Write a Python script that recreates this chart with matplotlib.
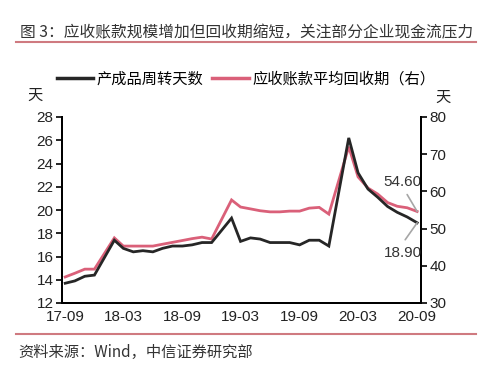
import matplotlib
matplotlib.use("Agg")
import matplotlib.pyplot as plt
import pandas as pd
from matplotlib.lines import Line2D

plt.rcParams['font.family'] = ['Liberation Sans', 'Noto Sans CJK SC', 'DejaVu Sans']

# ---------------- DATA ----------------
months = ["2017-09", "2017-10", "2017-11", "2017-12",
          "2018-02", "2018-03", "2018-04", "2018-05", "2018-06", "2018-07",
          "2018-08", "2018-09", "2018-10", "2018-11", "2018-12",
          "2019-02", "2019-03", "2019-04", "2019-05", "2019-06", "2019-07",
          "2019-08", "2019-09", "2019-10", "2019-11", "2019-12",
          "2020-02", "2020-03", "2020-04", "2020-05", "2020-06", "2020-07",
          "2020-08", "2020-09"]
inventory_days = [13.7, 13.9, 14.3, 14.4,
                  17.4, 16.7, 16.4, 16.5, 16.4, 16.7,
                  16.9, 16.9, 17.0, 17.2, 17.2,
                  19.3, 17.3, 17.6, 17.5, 17.2, 17.2,
                  17.2, 17.0, 17.4, 17.4, 16.9,
                  26.2, 23.2, 21.8, 21.1, 20.3, 19.8,
                  19.4, 18.9]
receivable_days = [37.0, 38.0, 39.1, 39.1,
                   47.5, 45.3, 45.3, 45.3, 45.3, 45.8,
                   46.3, 46.8, 47.3, 47.7, 47.2,
                   57.7, 55.8, 55.3, 54.8, 54.5, 54.5,
                   54.7, 54.7, 55.5, 55.7, 53.9,
                   72.0, 63.9, 60.9, 59.3, 57.0, 56.0,
                   55.6, 54.6]
tick_months = ["2017-09", "2018-03", "2018-09", "2019-03", "2019-09", "2020-03", "2020-09"]
tick_labels = ["17-09", "18-03", "18-09", "19-03", "19-09", "20-03", "20-09"]
series_names = ["产成品周转天数", "应收账款平均回收期（右）"]
last_labels = ["18.90", "54.60"]
title = "图 3：应收账款规模增加但回收期缩短，关注部分企业现金流压力"
source = "资料来源：Wind，中信证券研究部"

# ---------------- PLOT ----------------
BLACK = '#262626'
PINK = '#da6079'
W, H = 500, 377
fig = plt.figure(figsize=(W / 100, H / 100), dpi=100)
ax = fig.add_axes([62 / W, 1 - 303 / H, (421 - 62) / W, (303 - 117) / H])
ax2 = ax.twinx()

dates = pd.to_datetime(months)
ax.plot(dates, inventory_days, color=BLACK, lw=2.0, zorder=3, solid_joinstyle='miter')
ax2.plot(dates, receivable_days, color=PINK, lw=2.0, zorder=2, solid_joinstyle='miter')
ax.set_zorder(ax2.get_zorder() + 1)
ax.patch.set_visible(False)

ax.set_xlim(pd.Timestamp("2017-08-22"), pd.Timestamp("2020-09-13"))
ax.set_ylim(12, 28)
ax2.set_ylim(30, 80)
ax.set_yticks(range(12, 29, 2))
ax2.set_yticks(range(30, 81, 10))
ax.set_xticks(pd.to_datetime(tick_months))
ax.set_xticklabels(tick_labels)

for a in (ax, ax2):
    a.spines['top'].set_visible(False)
    for s in ('left', 'right', 'bottom'):
        a.spines[s].set_linewidth(1.4)
        a.spines[s].set_color('black')
    a.tick_params(axis='both', labelsize=11, colors='black', width=1.2, length=4,
                  labelcolor='#222222')
ax.tick_params(axis='x', length=0, pad=5)
ax.tick_params(axis='y', pad=2)
ax2.tick_params(axis='y', pad=2)

# last value annotations
GRAY = '#a6a6a6'
ax.annotate("", xy=(dates[-1], inventory_days[-1]), xytext=(-8.6, -12.2),
            textcoords='offset points',
            arrowprops=dict(arrowstyle='-', color=GRAY, lw=1.2, shrinkA=0, shrinkB=0))
ax.annotate(last_labels[0], xy=(dates[-1], inventory_days[-1]), xytext=(3.5, -21.5),
            textcoords='offset points', ha='right', va='center', fontsize=11, color='#333333')
ax2.annotate("", xy=(dates[-1], receivable_days[-1]), xytext=(-7.2, 12.2),
             textcoords='offset points',
             arrowprops=dict(arrowstyle='-', color=GRAY, lw=1.2, shrinkA=0, shrinkB=0))
ax2.annotate(last_labels[1], xy=(dates[-1], receivable_days[-1]), xytext=(3, 21),
             textcoords='offset points', ha='right', va='center', fontsize=11, color='#333333')

# legend
handles = [Line2D([], [], color=BLACK, lw=2.5), Line2D([], [], color=PINK, lw=2.5)]
fig.legend(handles, series_names, loc='center', bbox_to_anchor=(246 / W, 1 - 79 / H),
           ncol=2, frameon=False, handlelength=2.4, handletextpad=0.2,
           columnspacing=0.6, borderpad=0, borderaxespad=0,
           prop={'family': ['Noto Sans CJK SC'], 'size': 11})

# unit labels
fig.text(35 / W, 1 - 95 / H, "天", ha='center', va='center', fontsize=11,
         family=['Noto Sans CJK SC'], color='#222222')
fig.text(443 / W, 1 - 97 / H, "天", ha='center', va='center', fontsize=11,
         family=['Noto Sans CJK SC'], color='#222222')

# title, rules, source
fig.text(20 / W, 1 - 33 / H, title, ha='left', va='center', fontsize=11.3,
         family=['Noto Sans CJK SC', 'DejaVu Sans'], color='#333333')
RULE = '#cf7a80'
fig.add_artist(Line2D([16 / W, 476 / W], [1 - 42 / H, 1 - 42 / H], color=RULE, lw=1.5))
fig.add_artist(Line2D([16 / W, 476 / W], [1 - 334 / H, 1 - 334 / H], color=RULE, lw=1.5))
fig.text(18 / W, 1 - 352 / H, source, ha='left', va='center', fontsize=11,
         family=['Noto Sans CJK SC', 'DejaVu Sans'], color='#333333')

fig.savefig("out.png", dpi=100)
